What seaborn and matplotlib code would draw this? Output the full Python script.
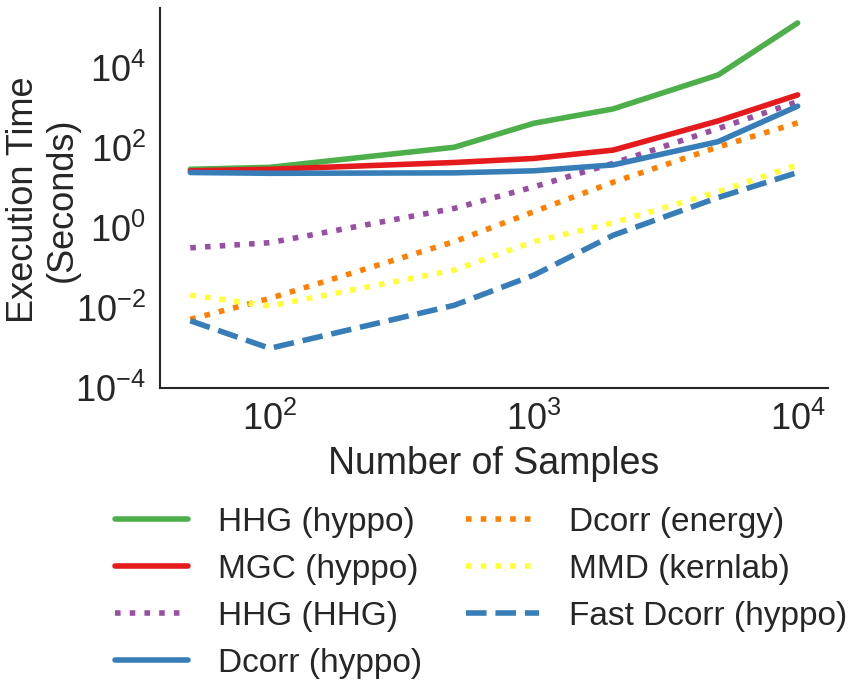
import matplotlib
matplotlib.use("Agg")
import matplotlib.pyplot as plt
import seaborn as sns
import pandas as pd

n_samples = [50, 100, 500, 1000, 2000, 5000, 10000]

hhg_hyppo = [29.5, 33, 105, 417, 955, 6760, 135000]
mgc_hyppo = [27, 29.5, 43.6, 55, 89, 479, 2140]
hhg_hhg = [0.32, 0.43, 3.1, 10.7, 41.7, 309, 1445]
dcorr_hyppo = [24.5, 23.4, 24, 27, 38, 145, 1120]
dcorr_energy = [0.0052, 0.0174, 0.457, 2.57, 14, 107, 427]
mmd_kernlab = [0.021, 0.0112, 0.089, 0.457, 1.35, 8.1, 38]
fast_dcorr_hyppo = [0.0048, 0.00098, 0.0117, 0.066, 0.66, 5.8, 24.5]

labels = ["HHG (hyppo)", "MGC (hyppo)", "HHG (HHG)", "Dcorr (hyppo)",
          "Dcorr (energy)", "MMD (kernlab)", "Fast Dcorr (hyppo)"]
series = [hhg_hyppo, mgc_hyppo, hhg_hhg, dcorr_hyppo,
          dcorr_energy, mmd_kernlab, fast_dcorr_hyppo]
colors = ["#4daf4a", "#e41a1c", "#984ea3", "#377eb8",
          "#ff7f00", "#ffff33", "#377eb8"]
styles = ["-", "-", ":", "-", ":", ":", "--"]

sns.set_theme(style="white")
plt.rcParams["font.family"] = ["Liberation Sans", "DejaVu Sans"]

fig = plt.figure(figsize=(8.67, 6.99), dpi=100)
ax = fig.add_axes([0.1845, 0.445, 0.7705, 0.5436])

for lab, vals, c, ls in zip(labels, series, colors, styles):
    df = pd.DataFrame({"n": n_samples, "t": vals})
    sns.lineplot(data=df, x="n", y="t", ax=ax, color=c, linestyle=ls,
                 linewidth=4, label=lab)

ax.set_xscale("log")
ax.set_yscale("log")
ax.set_ylim(1e-4, 3.2e5)
ax.set_yticks([1e-4, 1e-2, 1e0, 1e2, 1e4])
ax.set_xticks([1e2, 1e3, 1e4])
ax.minorticks_off()
ax.tick_params(labelsize=26, length=0, pad=10)
ax.set_xlabel("Number of Samples", fontsize=27, labelpad=6)
ax.set_ylabel("Execution Time\n(Seconds)", fontsize=26, linespacing=1.15)
ax.yaxis.set_label_coords(-0.12, 0.495)
sns.despine(ax=ax)
for s in ["left", "bottom"]:
    ax.spines[s].set_color("#262626")
    ax.spines[s].set_linewidth(1.5)

handles, labs = ax.get_legend_handles_labels()
ax.get_legend().remove()
fig.legend(handles, labs, loc="upper center", bbox_to_anchor=(0.555, 0.318),
           ncol=2, frameon=False, fontsize=24, handlelength=2.2,
           columnspacing=1.3, labelspacing=0.48, handletextpad=0.9)

fig.savefig("out.png", dpi=100)
